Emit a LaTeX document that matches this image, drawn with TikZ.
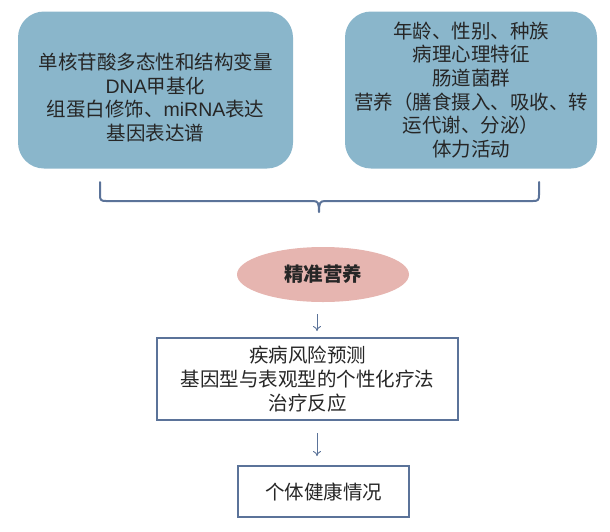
\documentclass[tikz,border=0pt]{standalone}
\usepackage{fontspec}
\setmainfont{Noto Sans CJK SC}
\newfontfamily\lat{Liberation Sans}
\usetikzlibrary{shapes.geometric,arrows.meta}
\definecolor{boxfill}{HTML}{8AB6CB}
\definecolor{ellfill}{HTML}{E6B5B0}
\definecolor{linec}{HTML}{5B7399}
\definecolor{txt}{HTML}{262626}
\begin{document}
\begin{tikzpicture}[x=1pt,y=-1pt,
  every node/.style={text=txt, font=\fontsize{19.5}{23.7}\selectfont, align=center, inner sep=0pt},
  rbox/.style={rectangle, rounded corners=26pt, fill=boxfill},
  sbox/.style={rectangle, draw=linec, line width=2pt, fill=white},
  arr/.style={draw=linec, line width=0.9pt, -{To[length=5pt,width=8pt]}},
  brace/.style={draw=linec, line width=2pt, line cap=round, line join=round}]
\useasboundingbox (0,0) rectangle (610,531);
\node[rbox, minimum width=275pt, minimum height=157pt] (lb) at (155.5,90) {};
\node (lt) at (155.5,97.5) {单核苷酸多态性和结构变量\\{\lat DNA}甲基化\\组蛋白修饰、{\lat miRNA}表达\\基因表达谱};
\node[rbox, minimum width=252pt, minimum height=157pt] (rb) at (471,90) {};
\node (rt) at (471,90) {年龄、性别、种族\\病理心理特征\\肠道菌群\\营养（膳食摄入、吸收、转\\运代谢、分泌）\\体力活动};
% brace
\coordinate (bl) at (100,182);
\coordinate (br) at (539,182);
\coordinate (bt) at (319,212);
\draw[brace] (bl) -- (100,195) .. controls (100,200) and (101,201) .. (106,201) -- (313,201)
  .. controls (318,201) and (319,203) .. (bt)
  .. controls (319,203) and (320,201) .. (325,201) -- (533,201)
  .. controls (538,201) and (539,200) .. (539,195) -- (br);
\node[ellipse, fill=ellfill, minimum width=172pt, minimum height=55pt] (e) at (323,274.5) {\bfseries 精准营养};
\node[sbox, minimum width=301pt, minimum height=82pt] (b2) at (307.5,379) {疾病风险预测\\基因型与表观型的个性化疗法\\治疗反应};
\node[sbox, minimum width=171pt, minimum height=51pt] (b3) at (323.5,491.5) {个体健康情况};
\draw[arr, shorten <=12pt, shorten >=6pt] ([xshift=-6pt]e.south) -- ([xshift=9.5pt]b2.north);
\draw[arr, shorten <=12pt, shorten >=9pt] ([xshift=9.5pt]b2.south) -- ([xshift=-6.5pt]b3.north);
\end{tikzpicture}
\end{document}
